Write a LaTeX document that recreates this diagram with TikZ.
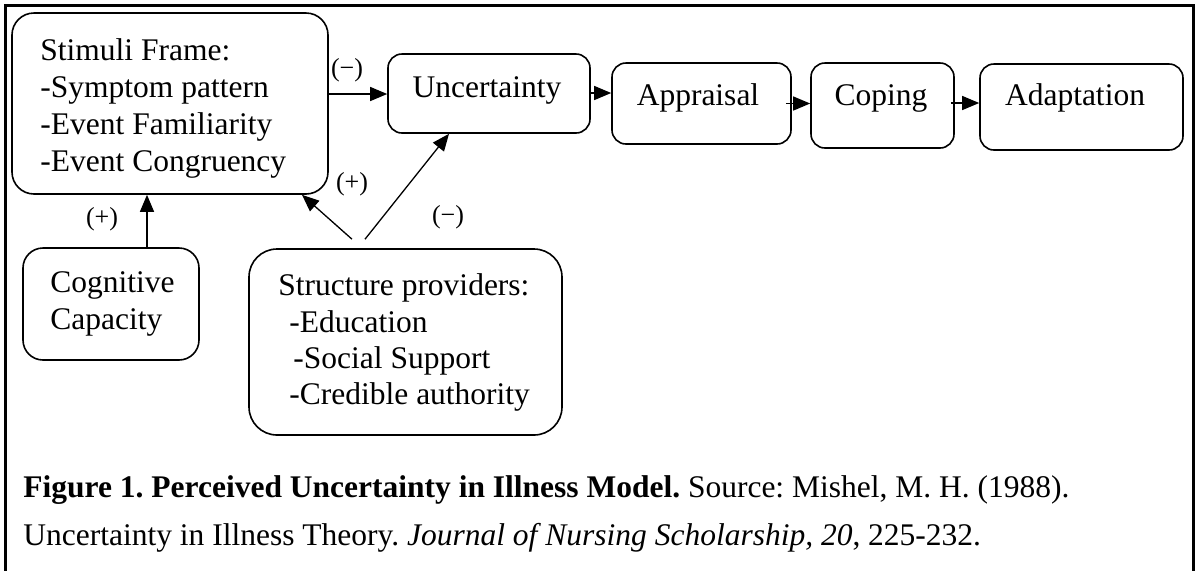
\documentclass[tikz,border=0pt]{standalone}
\usepackage{fontspec}
\setmainfont{Liberation Serif}
\usetikzlibrary{arrows.meta,calc}
\frenchspacing
\begin{document}
\begin{tikzpicture}[x=0.5pt,y=-0.5pt,
  box/.style={draw, line width=0.8pt, rounded corners=#1, inner sep=0pt},
  box/.default=7pt,
  txt/.style={anchor=base west, inner sep=0pt, font=\fontsize{15.75}{18.5}\selectfont},
  lab/.style={inner sep=0pt, font=\fontsize{13}{15}\selectfont},
  arr/.style={line width=0.65pt, -{Triangle[length=8.5pt,width=7pt]}},
  frame/.style={line width=1.5pt}
]
\useasboundingbox (0,0) rectangle (1196,570);
\begin{scope}
  \clip (0,0) rectangle (1196,570);
  \draw[frame] (5,600) -- (5,5) -- (1193,5) -- (1193,600);
\end{scope}

% boxes
\node[box=11pt, minimum width=158pt, minimum height=90.5pt] (stim) at (170,103.5) {};
\node[box, minimum width=101pt, minimum height=39.5pt] (unc) at (489,93.5) {};
\node[box, minimum width=89.5pt, minimum height=40.5pt] (appr) at (701.5,103.5) {};
\node[box, minimum width=71.5pt, minimum height=42.5pt] (cop) at (882.5,105.5) {};
\node[box, minimum width=101.5pt, minimum height=43pt] (adap) at (1081.5,107) {};
\node[box=10pt, minimum width=88pt, minimum height=56pt] (cog) at (111,304) {};
\node[box=14pt, minimum width=156.5pt, minimum height=93pt] (struc) at (405.5,342) {};

% texts
\node[txt] (st1) at (40,60) {Stimuli Frame:};
\node[txt] (st2) at (40,97) {-Symptom pattern};
\node[txt] (st3) at (40,134) {-Event Familiarity};
\node[txt] (st4) at (40,171) {-Event Congruency};
\node[txt,anchor=base] (unct) at (487,97) {Uncertainty};
\node[txt,anchor=base] (apprt) at (698,105) {Appraisal};
\node[txt,anchor=base] (copt) at (881,105) {Coping};
\node[txt,anchor=base] (adapt) at (1075,105) {Adaptation};
\node[txt] (cg1) at (50,292) {Cognitive};
\node[txt] (cg2) at (50,329) {Capacity};
\node[txt] (sp1) at (278,295) {Structure providers:};
\node[txt] (sp2) at (289,332) {-Education};
\node[txt] (sp3) at (293,368) {-Social Support};
\node[txt] (sp4) at (289,404) {-Credible authority};

% labels
\node[lab] (l1) at (347,70) {(−)};
\node[lab] (l2) at (352,184) {(+)};
\node[lab] (l3) at (102,219) {(+)};
\node[lab] (l4) at (448,217) {(−)};

% caption
\node[txt] (cap1) at (23,497) {\textbf{Figure 1. Perceived Uncertainty in Illness Model.} Source: Mishel, M. H. (1988).};
\node[txt] (cap2) at (23,545) {Uncertainty in Illness Theory. \textit{Journal of Nursing Scholarship, 20}, 225-232.};

% connectors
\coordinate (sa) at ($(struc.north)+(-53.5,-9)$);
\coordinate (sb) at ($(struc.north)+(-40.5,-9)$);
\draw[arr] (stim.east |- 0,94) -- (unc.west |- 0,94);
\draw[arr] (unc.east |- 0,93) -- (appr.west |- 0,93);
\draw[arr] ($(appr.east)+(-6,0)$) -- (appr.east -| cop.west);
\draw[arr] ($(cop.east |- 0,103)+(-4,0)$) -- (adap.west |- 0,103);
\draw[arr] (cog.north -| 147,0) -- (stim.south -| 147,0);
\draw[arr] (sa) -- (stim.south -| 302,0);
\draw[arr] (sb) -- (unc.south -| 449,0);
\end{tikzpicture}
\end{document}
